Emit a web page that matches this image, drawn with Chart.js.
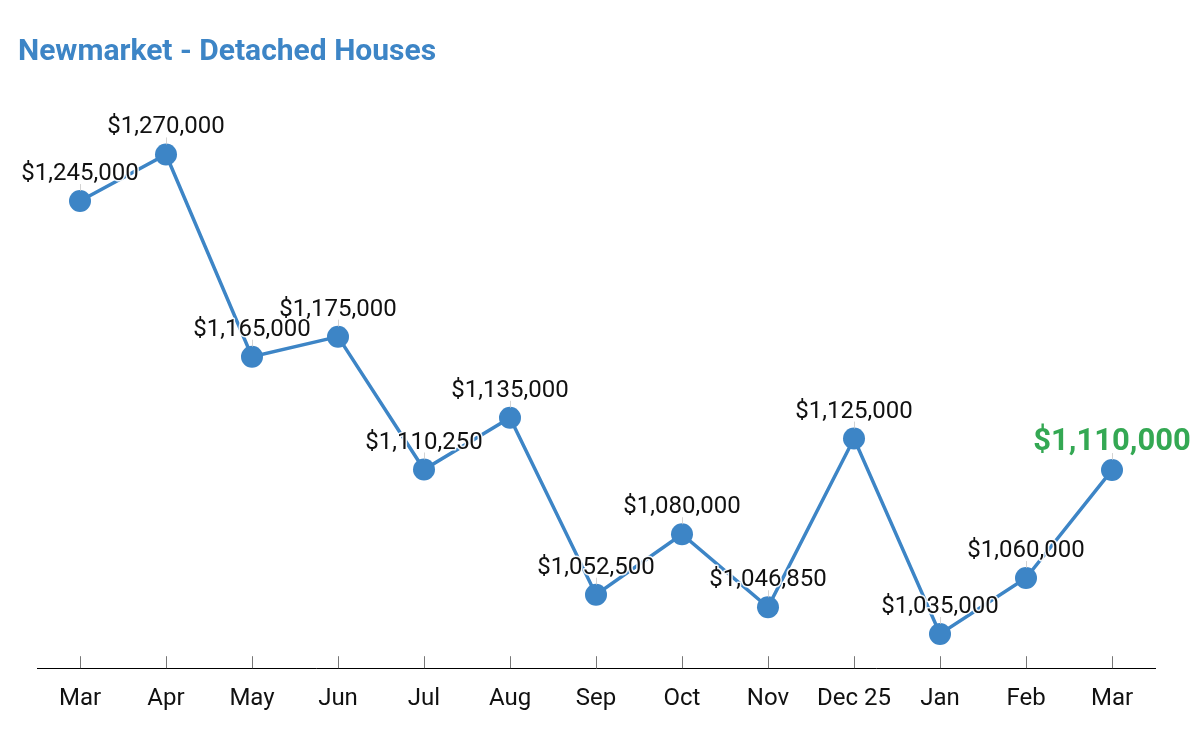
<!DOCTYPE html>
<html>
<head>
<meta charset="utf-8">
<script src="https://cdn.jsdelivr.net/npm/chart.js@4"></script>
<style>
html,body{margin:0;padding:0;background:#fff;}
#wrap{width:1193px;height:747px;}
</style>
</head>
<body>
<div id="wrap"><canvas id="c" width="1193" height="747"></canvas></div>
<script>
const categories = ["Mar","Apr","May","Jun","Jul","Aug","Sep","Oct","Nov","Dec 25","Jan","Feb","Mar"];
const prices = [1245000,1270000,1165000,1175000,1110250,1135000,1052500,1080000,1046850,1125000,1035000,1060000,1110000];
const yMin = 1020000;
const yMax = 1311000;

const fmt = v => "$" + v.toLocaleString("en-US");

const labelPlugin = {
  id: "labels",
  afterDatasetsDraw(chart) {
    const ctx = chart.ctx;
    const meta = chart.getDatasetMeta(0);
    const last = meta.data.length - 1;
    ctx.save();
    ctx.textAlign = "center";
    ctx.textBaseline = "middle";
    meta.data.forEach((pt, i) => {
      const isLast = i === last;
      ctx.strokeStyle = "rgba(200,200,200,0.8)";
      ctx.lineWidth = 1;
      ctx.beginPath();
      ctx.moveTo(Math.round(pt.x) + 0.5, pt.y - 17);
      ctx.lineTo(Math.round(pt.x) + 0.5, pt.y - 10);
      ctx.stroke();
      ctx.font = isLast ? "bold 31px Roboto" : "24px Roboto";
      const y = pt.y - (isLast ? 28 : 27);
      const t = fmt(prices[i]);
      ctx.lineWidth = 3;
      ctx.strokeStyle = "rgba(255,255,255,0.9)";
      ctx.lineJoin = "round";
      ctx.strokeText(t, pt.x, y);
      ctx.fillStyle = isLast ? "#34a853" : "#111";
      ctx.fillText(t, pt.x, y);
    });
    ctx.restore();
  }
};

const tickPlugin = {
  id: "ticksUp",
  beforeDatasetsDraw(chart) {
    const ctx = chart.ctx;
    const xs = chart.scales.x;
    const bottom = chart.chartArea.bottom;
    ctx.save();
    ctx.strokeStyle = "#777";
    ctx.lineWidth = 1;
    for (let i = 0; i < categories.length; i++) {
      const x = Math.round(xs.getPixelForTick(i)) + 0.5;
      ctx.beginPath();
      ctx.moveTo(x, bottom - 12);
      ctx.lineTo(x, bottom);
      ctx.stroke();
    }
    ctx.restore();
  }
};

new Chart(document.getElementById("c"), {
  type: "line",
  data: {
    labels: categories,
    datasets: [{
      data: prices,
      borderColor: "#3d85c6",
      backgroundColor: "#3d85c6",
      borderWidth: 3.5,
      pointRadius: 11,
      pointHoverRadius: 11,
      pointBackgroundColor: "#3d85c6",
      pointBorderColor: "#3d85c6",
      pointBorderWidth: 0,
      tension: 0
    }]
  },
  options: {
    responsive: false,
    animation: false,
    devicePixelRatio: 1,
    layout: { padding: { left: 18, right: 38, top: 34, bottom: 18 } },
    plugins: {
      legend: { display: false },
      tooltip: { enabled: false },
      title: {
        display: true,
        text: "Newmarket - Detached Houses",
        align: "start",
        color: "#3d85c6",
        font: { family: "Roboto", size: 30, weight: "bold" },
        padding: { top: 0, bottom: 10 }
      }
    },
    scales: {
      x: {
        offset: true,
        grid: { display: false, drawTicks: false },
        border: { display: true, color: "#000", width: 1 },
        ticks: { color: "#111", font: { family: "Roboto", size: 24 }, padding: 16, maxRotation: 0, autoSkip: false }
      },
      y: {
        type: "logarithmic",
        display: true,
        min: yMin,
        max: yMax,
        grid: { display: false },
        border: { display: false },
        ticks: { display: false },
        afterFit: s => { s.width = 19; }
      }
    }
  },
  plugins: [tickPlugin, labelPlugin]
});
</script>
</body>
</html>
